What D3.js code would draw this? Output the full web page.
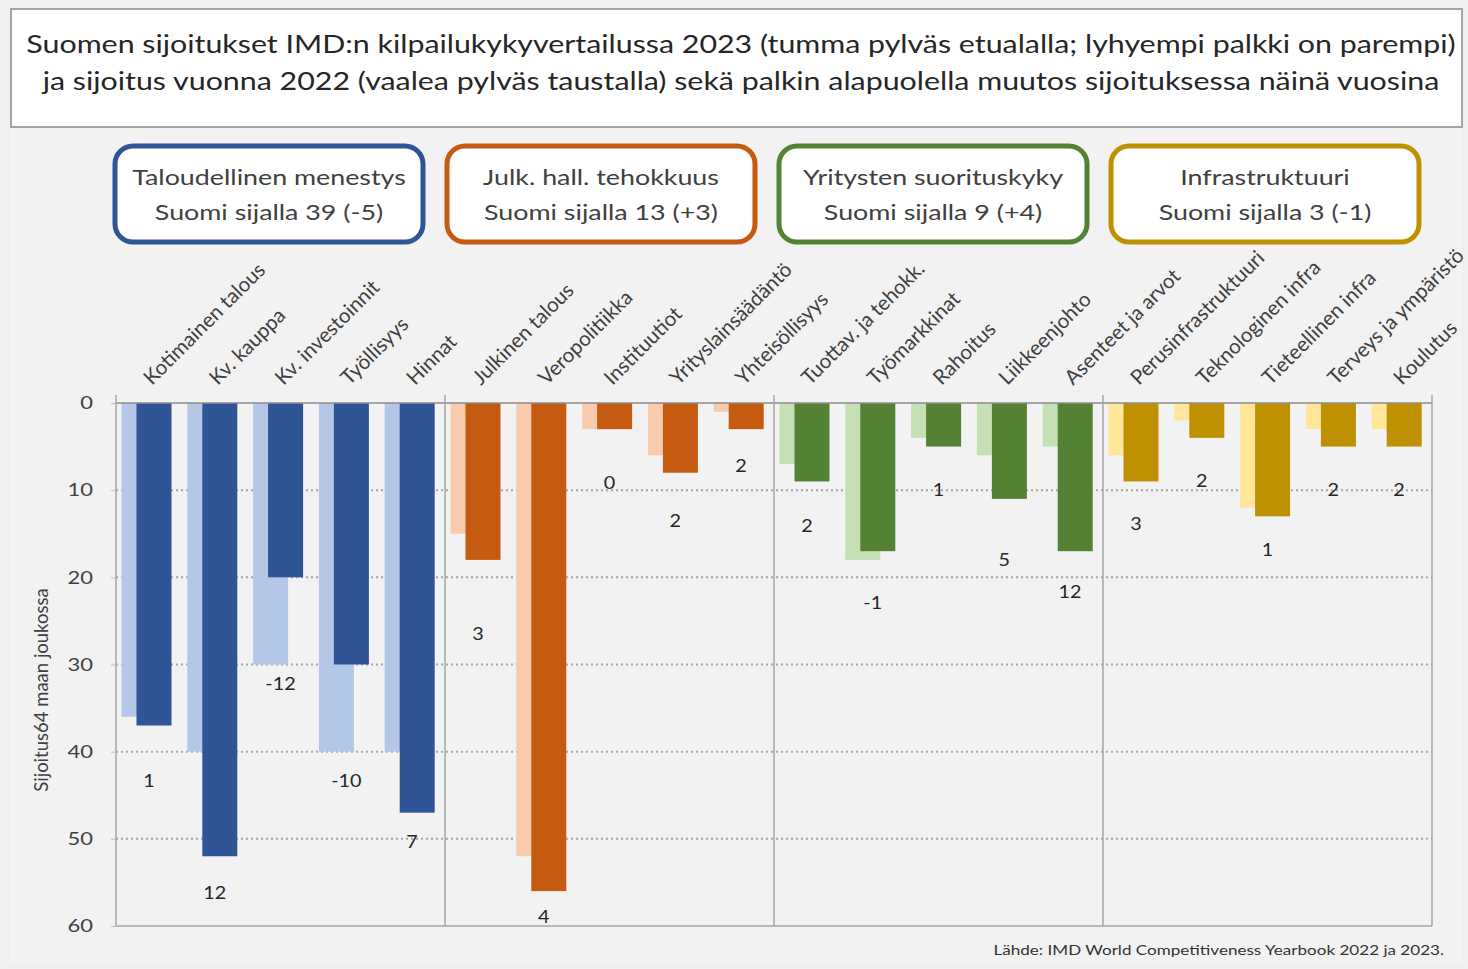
<!DOCTYPE html>
<html><head><meta charset="utf-8">
<script src="https://cdn.jsdelivr.net/npm/d3@7"></script>
<style>
html,body{margin:0;padding:0;background:#efefef;}
svg{display:block;font-family:Lato,"Open Sans",sans-serif;}
</style></head>
<body><svg id="c" width="1468" height="969"></svg>
<script>
const titleLines = ["Suomen sijoitukset IMD:n kilpailukykyvertailussa 2023 (tumma pylväs etualalla; lyhyempi palkki on parempi)",
  "ja sijoitus vuonna 2022 (vaalea pylväs taustalla) sekä palkin alapuolella muutos sijoituksessa näinä vuosina"];
const groups = ["Taloudellinen menestys","Julk. hall. tehokkuus","Yritysten suorituskyky","Infrastruktuuri"];
const groupSubtitles = ["Suomi sijalla 39  (-5)","Suomi sijalla 13  (+3)","Suomi sijalla 9  (+4)","Suomi sijalla 3  (-1)"];
const categories = ["Kotimainen talous","Kv. kauppa","Kv. investoinnit","Työllisyys","Hinnat",
  "Julkinen talous","Veropolitiikka","Instituutiot","Yrityslainsäädäntö","Yhteisöllisyys",
  "Tuottav. ja tehokk.","Työmarkkinat","Rahoitus","Liikkeenjohto","Asenteet ja arvot",
  "Perusinfrastruktuuri","Teknologinen infra","Tieteellinen infra","Terveys ja ympäristö","Koulutus"];
const categoryGroup = [0,0,0,0,0,1,1,1,1,1,2,2,2,2,2,3,3,3,3,3];
const rank2022 = [36,40,30,40,40, 15,52,3,6,1, 7,18,4,6,5, 6,2,12,3,3];
const rank2023 = [37,52,20,30,47, 18,56,3,8,3, 9,17,5,11,17, 9,4,13,5,5];
const changeLabels = ["1","12","-12","-10","7", "3","4","0","2","2", "2","-1","1","5","12", "3","2","1","2","2"];
const changeLabelRank = [43.2,56.1,32.1,43.2,50.2, 26.4,58.8,9.1,13.4,7.1, 14,22.8,9.9,17.9,21.6, 13.8,8.8,16.7,9.9,9.9];
const yTicks = [0,10,20,30,40,50,60];
const yTitle = "Sijoitus64 maan joukossa";
const source = "Lähde: IMD World Competitiveness  Yearbook 2022 ja 2023.";
const darkColors = ["#2f5597","#c55a11","#548235","#bf9000"];
const lightColors = ["#b4c7e7","#f8cbad","#c5e0b4","#ffe699"];
const borderColors = ["#2f5597","#c55a11","#548235","#bf9000"];

const SX = 1.22; // horizontal stretch seen in the reference text
function stretch(sel, sx) {
  sel.each(function(){
    const t = d3.select(this);
    const x = +t.attr("x") || 0, y = +t.attr("y") || 0;
    t.attr("x",0).attr("y",0).attr("transform",`translate(${x},${y}) scale(${sx},1)`);
  });
}

const svg = d3.select("#c");
svg.append("rect").attr("x",0).attr("y",0).attr("width",1468).attr("height",969).attr("fill","#efefef");
svg.append("rect").attr("x",10).attr("y",128).attr("width",1452).attr("height",837).attr("fill","#f2f2f2");
svg.append("rect").attr("x",11).attr("y",9).attr("width",1451).attr("height",118).attr("fill","#ffffff").attr("stroke","#a6a6a6").attr("stroke-width",2);
svg.selectAll("text.title").data(titleLines).join("text").attr("class","title")
  .attr("x",741).attr("y",(d,i)=>53+i*37).attr("text-anchor","middle")
  .attr("font-size",25).attr("fill","#262626").text(d=>d)
  .call(stretch, 1.215);

const x = d3.scaleBand().domain(categories).range([116,1432]).paddingInner(0).paddingOuter(0);
const y = d3.scaleLinear().domain([0,60]).range([403,926]);
const bw = x.bandwidth();

// group boxes
const boxX = i => 115 + i*332;
const boxW = 308;
const gb = svg.selectAll("g.gbox").data(groups).join("g").attr("class","gbox");
gb.append("rect")
  .attr("x",(d,i)=>boxX(i)).attr("y",146).attr("width",boxW).attr("height",96).attr("rx",18)
  .attr("fill","#ffffff").attr("stroke",(d,i)=>borderColors[i]).attr("stroke-width",5);
gb.append("text").attr("x",(d,i)=>boxX(i)+boxW/2).attr("y",185)
  .attr("text-anchor","middle").attr("font-size",22).attr("fill","#404040").text(d=>d)
  .call(stretch, SX);
gb.append("text").attr("x",(d,i)=>boxX(i)+boxW/2).attr("y",220)
  .attr("text-anchor","middle").attr("font-size",22).attr("fill","#404040").text((d,i)=>groupSubtitles[i])
  .call(stretch, SX);

// gridlines
svg.append("g").selectAll("line").data(yTicks.filter(t=>t>0&&t<60)).join("line")
  .attr("x1",116).attr("x2",1432).attr("y1",d=>y(d)).attr("y2",d=>y(d))
  .attr("stroke","#a6a6a6").attr("stroke-width",2).attr("stroke-dasharray","2,3");
svg.append("line").attr("x1",116).attr("x2",1432).attr("y1",y(60)).attr("y2",y(60)).attr("stroke","#a6a6a6").attr("stroke-width",1.5);

// bars
const idx = d3.range(categories.length);
svg.append("g").selectAll("rect").data(idx).join("rect")
  .attr("x",i=>x(categories[i])+5.5).attr("y",y(0)).attr("width",35)
  .attr("height",i=>y(rank2022[i])-y(0)).attr("fill",i=>lightColors[categoryGroup[i]]);
svg.append("g").selectAll("rect").data(idx).join("rect")
  .attr("x",i=>x(categories[i])+20.5).attr("y",y(0)).attr("width",35)
  .attr("height",i=>y(rank2023[i])-y(0)).attr("fill",i=>darkColors[categoryGroup[i]]);

// axis lines
svg.append("line").attr("x1",116).attr("x2",1432).attr("y1",y(0)).attr("y2",y(0)).attr("stroke","#8c8c8c").attr("stroke-width",1.5);
const seps = [0,5,10,15,20].map(i=> i<20 ? x(categories[i]) : 1432);
svg.append("g").selectAll("line").data(seps).join("line")
  .attr("x1",d=>d).attr("x2",d=>d).attr("y1",y(0)-8).attr("y2",y(60))
  .attr("stroke","#a6a6a6").attr("stroke-width",1.5);

// y axis
const yAxis = d3.axisLeft(y).tickValues(yTicks).tickSize(5).tickPadding(18);
const ga = svg.append("g").attr("transform","translate(116,0)").call(yAxis);
ga.select(".domain").remove();
ga.selectAll(".tick line").attr("stroke","#bfbfbf");
ga.selectAll(".tick text").attr("font-size",18).attr("fill","#404040").attr("font-family","Lato,sans-serif")
  .each(function(){ const t=d3.select(this); const tx=+t.attr("x"); t.attr("x",0).attr("transform",`translate(${tx},0) scale(${SX},1)`); });
svg.append("text").attr("transform","translate(48,690) rotate(-90)").attr("text-anchor","middle")
  .attr("font-size",18.5).attr("fill","#404040").text(yTitle);

// category labels
svg.append("g").selectAll("text").data(categories).join("text")
  .attr("transform",d=>`translate(${x(d)+bw/2+3},386) rotate(-45)`)
  .attr("font-size",20.5).attr("fill","#404040").text(d=>d);

// change labels
svg.append("g").selectAll("text").data(idx).join("text")
  .attr("x",i=>x(categories[i])+bw/2).attr("y",i=>y(changeLabelRank[i])+7)
  .attr("text-anchor","middle").attr("font-size",18).attr("fill","#262626").text(i=>changeLabels[i])
  .call(stretch, 1.1);

svg.append("text").attr("x",1444).attr("y",955).attr("text-anchor","end")
  .attr("font-size",14).attr("fill","#333333").text(source)
  .call(stretch, SX);
</script></body></html>
